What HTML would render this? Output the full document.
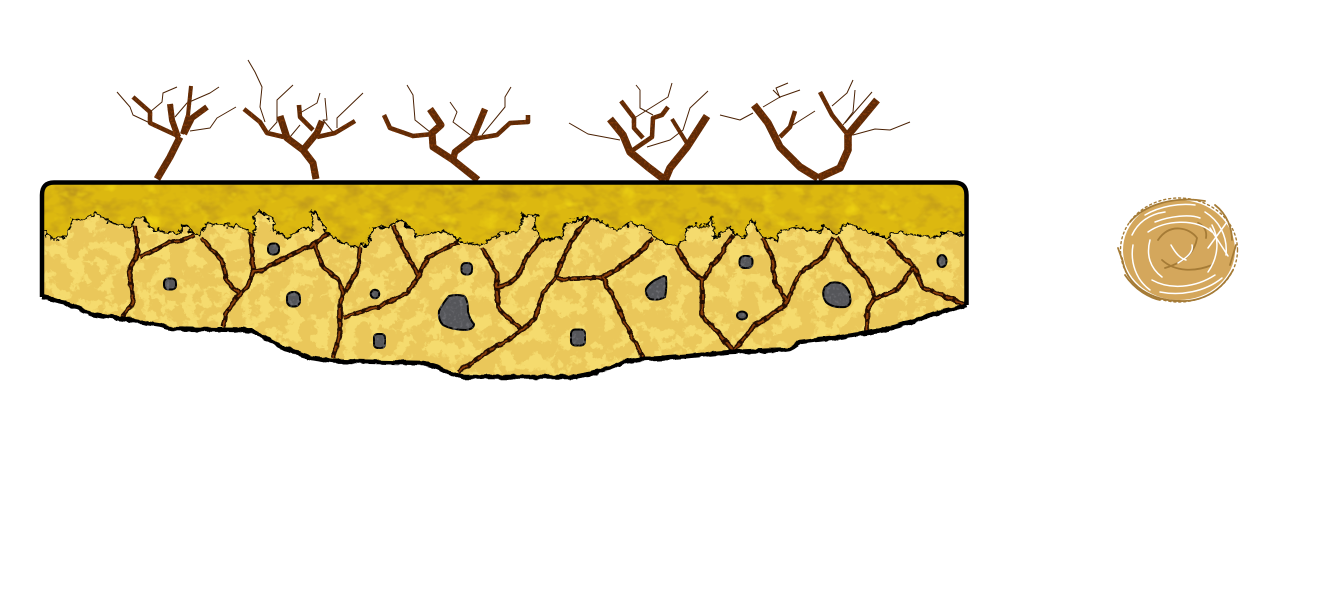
<!DOCTYPE html>
<html lang="en">
<head>
<meta charset="utf-8">
<title>Dry cracked soil with bare shrubs and a tumbleweed</title>
<style>
html,body{margin:0;padding:0;background:#fff;width:1341px;height:599px;overflow:hidden}
svg{display:block}
</style>
</head>
<body>
<svg xmlns="http://www.w3.org/2000/svg" width="1341" height="599" viewBox="0 0 1341 599">
<defs>
  <clipPath id="groundClip">
    <path d="M42 297V195Q42 182.500 54 182.500H954Q966.500 182.500 966.500 195V305L950 310 933 314 915 321 900 325 885 330 867 333 835 338 815 340 800 342 790 349 783 350 755 351 730 352 700 355 665 358 643 359 623 362 610 368 590 374 573 377 500 377 463 377 450 373 437 367 423 363 380 362 333 361 310 358 296 352 283 348 270 341 260 335 250 331 240 330 173 329 160 325 147 323 120 318 105 316 90 314 76 307 63 302 50 299Z"/>
  </clipPath>
  <filter id="grassTex" filterUnits="userSpaceOnUse" x="0" y="150" width="1000" height="120" color-interpolation-filters="sRGB">
    <feTurbulence type="fractalNoise" baseFrequency=".05 .07" numOctaves="3" seed="7" result="n"/>
    <feColorMatrix in="n" type="matrix" values="0 0 0 0 .75  0 0 0 0 .60  0 0 0 0 .10  2.600 0 0 0 -1.200" result="dark"/>
    <feColorMatrix in="n" type="matrix" values="0 0 0 0 .93  0 0 0 0 .82  0 0 0 0 .07  0 -3 0 0 1.250" result="bright"/>
    <feMerge result="m"><feMergeNode in="dark"/><feMergeNode in="bright"/></feMerge>
    <feComposite in="m" in2="SourceAlpha" operator="in" result="c"/>
    <feMerge><feMergeNode in="SourceGraphic"/><feMergeNode in="c"/></feMerge>
  </filter>
  <filter id="soilTex" filterUnits="userSpaceOnUse" x="0" y="190" width="1000" height="210" color-interpolation-filters="sRGB">
    <feTurbulence type="fractalNoise" baseFrequency=".07" numOctaves="3" seed="11" result="n"/>
    <feColorMatrix in="n" type="matrix" values="0 0 0 0 .96  0 0 0 0 .86  0 0 0 0 .43  14 0 0 0 -7.100" result="p"/>
    <feComposite in="p" in2="SourceAlpha" operator="in" result="c"/>
    <feMerge><feMergeNode in="SourceGraphic"/><feMergeNode in="c"/></feMerge>
  </filter>
  <filter id="jag" filterUnits="userSpaceOnUse" x="0" y="150" width="1000" height="260" color-interpolation-filters="sRGB">
    <feTurbulence type="fractalNoise" baseFrequency=".2" numOctaves="3" seed="3" result="n"/>
    <feDisplacementMap in="SourceGraphic" in2="n" scale="8" xChannelSelector="R" yChannelSelector="G"/>
  </filter>
  <filter id="jagSmall" filterUnits="userSpaceOnUse" x="0" y="150" width="1000" height="260" color-interpolation-filters="sRGB">
    <feTurbulence type="fractalNoise" baseFrequency=".12" numOctaves="2" seed="8" result="n"/>
    <feDisplacementMap in="SourceGraphic" in2="n" scale="4" xChannelSelector="R" yChannelSelector="G"/>
  </filter>
  <filter id="barkTex" filterUnits="userSpaceOnUse" x="90" y="50" width="840" height="140" color-interpolation-filters="sRGB">
    <feTurbulence type="fractalNoise" baseFrequency=".45" numOctaves="2" seed="5" result="n"/>
    <feColorMatrix in="n" type="matrix" values="0 0 0 0 .50  0 0 0 0 .22  0 0 0 0 .03  6 0 0 0 -3.100" result="p"/>
    <feComposite in="p" in2="SourceAlpha" operator="in" result="c"/>
    <feMerge><feMergeNode in="SourceGraphic"/><feMergeNode in="c"/></feMerge>
  </filter>
  <filter id="rockTex" filterUnits="userSpaceOnUse" x="150" y="230" width="810" height="130" color-interpolation-filters="sRGB">
    <feTurbulence type="fractalNoise" baseFrequency=".3" numOctaves="2" seed="9" result="n"/>
    <feColorMatrix in="n" type="matrix" values="0 0 0 0 .44  0 0 0 0 .44  0 0 0 0 .46  3 0 0 0 -1.500" result="p"/>
    <feComposite in="p" in2="SourceGraphic" operator="in" result="c"/>
    <feMerge><feMergeNode in="SourceGraphic"/><feMergeNode in="c"/></feMerge>
  </filter>
</defs>

<g id="shrubs" fill="none" stroke-linejoin="round">
  <g>
    <g stroke="#4a2104" stroke-width="1">
      <polyline points="150,123 133,115 130,107 117,92"/>
      <polyline points="150,112 162,102 163,93 177,87"/>
      <polyline points="175,117 187,103 210,93 219,87"/>
      <polyline points="190,131 210,128 217,118 236,107"/>
    </g>
    <g filter="url(#barkTex)" stroke="#5f2a06">
      <polyline stroke-width="7" points="157,179 170,157 177,143 180,137"/>
      <polyline stroke-width="4.500" points="180,137 150,123 150,112 133,97"/>
      <polyline stroke-width="6" points="178,137 172,120 170,104"/>
      <polyline stroke-width="4" points="182,134 188,115 191,86"/>
      <polyline stroke-width="6" points="184,134 192,118 207,107"/>
    </g>
  </g>
  <g>
    <g stroke="#4a2104" stroke-width="1">
      <polyline points="265,122 260,107 262,87 255,72 248,60"/>
      <polyline points="268,132 277,122 277,100 293,85"/>
      <polyline points="300,113 317,103 320,93"/>
      <polyline points="325,98 327,120 323,120 333,132"/>
      <polyline points="337,128 337,118 363,93"/>
      <polyline points="290,137 300,125"/>
    </g>
    <g filter="url(#barkTex)" stroke="#5f2a06">
      <polyline stroke-width="7" points="316,179 313,163 303,150 287,138 280,116"/>
      <polyline stroke-width="6.500" points="303,150 317,133 322,121"/>
      <polyline stroke-width="4.500" points="317,137 335,133 355,121"/>
      <polyline stroke-width="4.500" points="313,130 300,117 299,105"/>
      <polyline stroke-width="4.500" points="284,137 267,133 260,122 244,109"/>
    </g>
  </g>
  <g>
    <g stroke="#4a2104" stroke-width="1">
      <polyline points="430,132 415,120 413,95 407,85"/>
      <polyline points="473,137 453,122 457,112 450,102"/>
      <polyline points="482,135 505,107 505,97 511,87"/>
    </g>
    <g filter="url(#barkTex)" stroke="#5f2a06">
      <polyline stroke-width="7" points="478,180 453,160 433,147 432,133 441,125 430,109"/>
      <polyline stroke-width="6.500" points="453,160 455,152 473,138 485,109"/>
      <polyline stroke-width="4.500" points="433,134 413,136 390,128 384,115"/>
      <polyline stroke-width="4.500" points="473,139 497,135 510,123 528,122 528,115"/>
    </g>
  </g>
  <g>
    <g stroke="#4a2104" stroke-width="1">
      <polyline points="620,140 588,134 569,123"/>
      <polyline points="647,147 670,140 683,130 690,108 708,91"/>
      <polyline points="636,117 660,102 668,97 672,83"/>
      <polyline points="653,115 640,108 640,90 636,85"/>
    </g>
    <g filter="url(#barkTex)" stroke="#5f2a06">
      <polyline stroke-width="7.500" points="665,180 648,167 630,152 623,135 610,119"/>
      <polyline stroke-width="7.500" points="665,180 670,168 687,147 707,116"/>
      <polyline stroke-width="4.500" points="633,150 652,137 653,118 662,115 668,107"/>
      <polyline stroke-width="4.500" points="643,138 634,128 634,118 621,101"/>
      <polyline stroke-width="4" points="688,145 680,132 672,119"/>
    </g>
  </g>
  <g>
    <g stroke="#4a2104" stroke-width="1">
      <polyline points="753,113 740,120 720,115"/>
      <polyline points="763,107 780,97 773,90"/>
      <polyline points="780,97 800,90"/>
      <polyline points="780,98 776,88 788,83"/>
      <polyline points="793,125 815,111"/>
      <polyline points="832,106 847,93 853,80"/>
      <polyline points="843,125 853,112 855,90"/>
      <polyline points="845,123 872,92"/>
      <polyline points="853,135 875,129 890,130 910,122"/>
    </g>
    <g filter="url(#barkTex)" stroke="#5f2a06">
      <polyline stroke-width="7.500" points="818,178 800,167 780,147 768,123 754,105"/>
      <polyline stroke-width="7.500" points="818,178 840,168 848,150 848,135 877,100"/>
      <polyline stroke-width="4.500" points="848,135 832,115 820,92"/>
      <polyline stroke-width="4.500" points="780,137 790,127 795,111"/>
    </g>
  </g>
</g>

<g id="ground">
  <g clip-path="url(#groundClip)">
    <rect x="30" y="175" width="950" height="90" fill="#dcb810" filter="url(#grassTex)"/>
    <g filter="url(#jag)">
      <path filter="url(#soilTex)" fill="#eac75a" d="M30 231H45L52 239 65 238 73 220 83 220 96 213 110 222 130 228 136 217 143 217 153 230 180 233 183 225 193 232 200 237 207 223 243 227 255 235 255 217 260 210 275 223 273 230 288 238 293 232 307 227 313 232 312 210 320 220 327 233 350 247 367 245 373 228 390 227 397 220 412 228 417 237 443 230 462 242 480 246 497 235 520 230 523 215 538 215 533 230 543 240 562 238 565 223 590 217 617 230 630 223 647 228 653 237 673 246 685 242 687 227 707 225 712 218 715 238 730 227 735 235 745 238 748 225 752 220 763 237 777 240 778 232 797 227 820 233 823 225 837 235 847 223 867 232 887 238 893 232 913 235 937 238 947 232 980 238V400H30Z"/>
      <path fill="none" stroke="#000" stroke-width="1.600" d="M30 231H45L52 239 65 238 73 220 83 220 96 213 110 222 130 228 136 217 143 217 153 230 180 233 183 225 193 232 200 237 207 223 243 227 255 235 255 217 260 210 275 223 273 230 288 238 293 232 307 227 313 232 312 210 320 220 327 233 350 247 367 245 373 228 390 227 397 220 412 228 417 237 443 230 462 242 480 246 497 235 520 230 523 215 538 215 533 230 543 240 562 238 565 223 590 217 617 230 630 223 647 228 653 237 673 246 685 242 687 227 707 225 712 218 715 238 730 227 735 235 745 238 748 225 752 220 763 237 777 240 778 232 797 227 820 233 823 225 837 235 847 223 867 232 887 238 893 232 913 235 937 238 947 232 980 238"/>
    </g>
    <g fill="none" stroke="#260e02" stroke-width="4.800" stroke-linejoin="round" filter="url(#jagSmall)">
      <g id="crackLines">
        <polyline points="135,225 137,240 138,253 130,268 131,285 133,300 130,308 122,317"/>
        <polyline points="140,257 155,250 170,242 183,240 195,235"/>
        <polyline points="202,238 212,250 222,260 227,280 233,288 240,293"/>
        <polyline points="250,233 252,250 253,273 247,287 233,302 226,315 223,327"/>
        <polyline points="253,272 263,270 288,256 313,245 328,233"/>
        <polyline points="315,245 323,267 338,280 343,292 340,307 340,330 336,348 333,358"/>
        <polyline points="360,248 358,270 345,292"/>
        <polyline points="343,317 377,307 407,293 418,278 427,258 443,250 458,242"/>
        <polyline points="393,225 405,252 418,275"/>
        <polyline points="482,248 497,273 498,307 510,320 522,329"/>
        <polyline points="498,287 510,283 517,277 527,257 542,238"/>
        <polyline points="458,372 490,350 508,340 522,330 535,318 543,293 555,279 562,260 575,235 590,217"/>
        <polyline points="557,279 602,278"/>
        <polyline points="602,278 620,267 637,255 653,238"/>
        <polyline points="603,278 612,295 625,323 643,358"/>
        <polyline points="677,247 688,268 702,280 718,258 733,235"/>
        <polyline points="702,280 702,317 718,332 732,350"/>
        <polyline points="733,352 753,327 785,305 800,273 823,257 833,237"/>
        <polyline points="763,238 773,260 775,283 787,302"/>
        <polyline points="837,237 850,260 868,280 875,298"/>
        <polyline points="867,333 867,310 875,298 897,290 913,267"/>
        <polyline points="888,240 900,255 913,265 923,288 945,296 965,305"/>
      </g>
    </g>
    <use href="#crackLines" fill="none" stroke="#8a3f0d" stroke-width="1.800" stroke-dasharray="11 3 6 4" stroke-linejoin="round" filter="url(#jagSmall)"/>
  </g>
  <g fill="#55565a" stroke="#000" stroke-width="2" stroke-linejoin="round" filter="url(#rockTex)">
    <rect x="164" y="278.500" width="12" height="11" rx="4"/>
    <rect x="268" y="243.500" width="11" height="11" rx="4.500"/>
    <rect x="287" y="292" width="13" height="14.500" rx="5.500"/>
    <circle cx="375" cy="294" r="4.300"/>
    <rect x="374" y="334" width="11" height="14" rx="3.500"/>
    <rect x="461.500" y="263" width="10.500" height="11.500" rx="4"/>
    <path d="M449 296Q457 294 464 296 468 299 468 312 470 320 474 324 474 329 466 330 452 330 443 325 438 320 439 311 443 303 449 296Z"/>
    <rect x="571" y="329.500" width="14" height="16" rx="4"/>
    <path d="M666 277Q667 288 665 297 658 301 650 299 645 295 646 289 650 281 664 276Z"/>
    <rect x="739.500" y="256" width="13" height="12" rx="5"/>
    <ellipse cx="742" cy="315.500" rx="5" ry="4"/>
    <path d="M830 283Q840 281 845 286 850 291 850 297 852 305 845 307 832 308 826 302 821 294 825 287Z"/>
    <ellipse cx="942" cy="261" rx="4.500" ry="6"/>
  </g>
  <path d="M42 297V195Q42 182.500 54 182.500H954Q966.500 182.500 966.500 195V305" fill="none" stroke="#000" stroke-width="4.500" stroke-linejoin="round"/>
  <path filter="url(#jagSmall)" d="M966.500 305L950 310 933 314 915 321 900 325 885 330 867 333 835 338 815 340 800 342 790 349 783 350 755 351 730 352 700 355 665 358 643 359 623 362 610 368 590 374 573 377 500 377 463 377 450 373 437 367 423 363 380 362 333 361 310 358 296 352 283 348 270 341 260 335 250 331 240 330 173 329 160 325 147 323 120 318 105 316 90 314 76 307 63 302 50 299 42 297" fill="none" stroke="#000" stroke-width="4.500" stroke-linejoin="round"/>
</g>

<g id="tumbleweed" fill="none" stroke-linecap="round">
  <ellipse cx="1179" cy="250" rx="56" ry="50" fill="#d4a75c"/>
  <g stroke="#a57b36" stroke-width="1.800">
    <path d="M1130 222C1145 204 1175 196 1205 201"/>
    <path d="M1122 258C1126 285 1150 302 1185 301 1205 300 1222 290 1233 270"/>
    <path d="M1215 205C1228 215 1232 230 1232 240"/>
    <path d="M1125 275C1135 290 1150 298 1160 300"/>
    <path d="M1158 240C1170 222 1190 228 1197 238 1195 252 1185 262 1165 268"/>
    <path d="M1198 223C1205 226 1207 232 1206 238"/>
    <path d="M1162 260C1175 272 1195 272 1212 265"/>
    <path d="M1118 248 1123 262M1236 245 1230 265"/>
  </g>
  <g stroke="#fff" stroke-width="1.500">
    <path d="M1145 215C1160 206 1180 203 1195 205"/>
    <path d="M1132 235C1138 222 1150 214 1165 212"/>
    <path d="M1148 232C1165 220 1195 218 1212 232"/>
    <path d="M1155 222C1170 216 1190 214 1200 218"/>
    <path d="M1205 212C1218 220 1228 235 1226 255"/>
    <path d="M1212 225C1220 240 1218 258 1208 272"/>
    <path d="M1227 222 1208 248M1210 228 1228 256"/>
    <path d="M1150 240C1146 255 1150 268 1162 277"/>
    <path d="M1133 245C1130 262 1136 280 1150 290"/>
    <path d="M1152 280C1170 290 1195 288 1215 275"/>
    <path d="M1160 292C1180 296 1205 292 1222 278"/>
    <path d="M1171 245C1176 254 1180 258 1186 260"/>
    <path d="M1192 245C1194 252 1186 258 1178 263"/>
  </g>
  <g stroke="#a57b36" stroke-width="1.400" stroke-dasharray="2 3">
    <ellipse cx="1179" cy="250" rx="58.500" ry="52"/>
  </g>
</g>
</svg>
</body>
</html>
